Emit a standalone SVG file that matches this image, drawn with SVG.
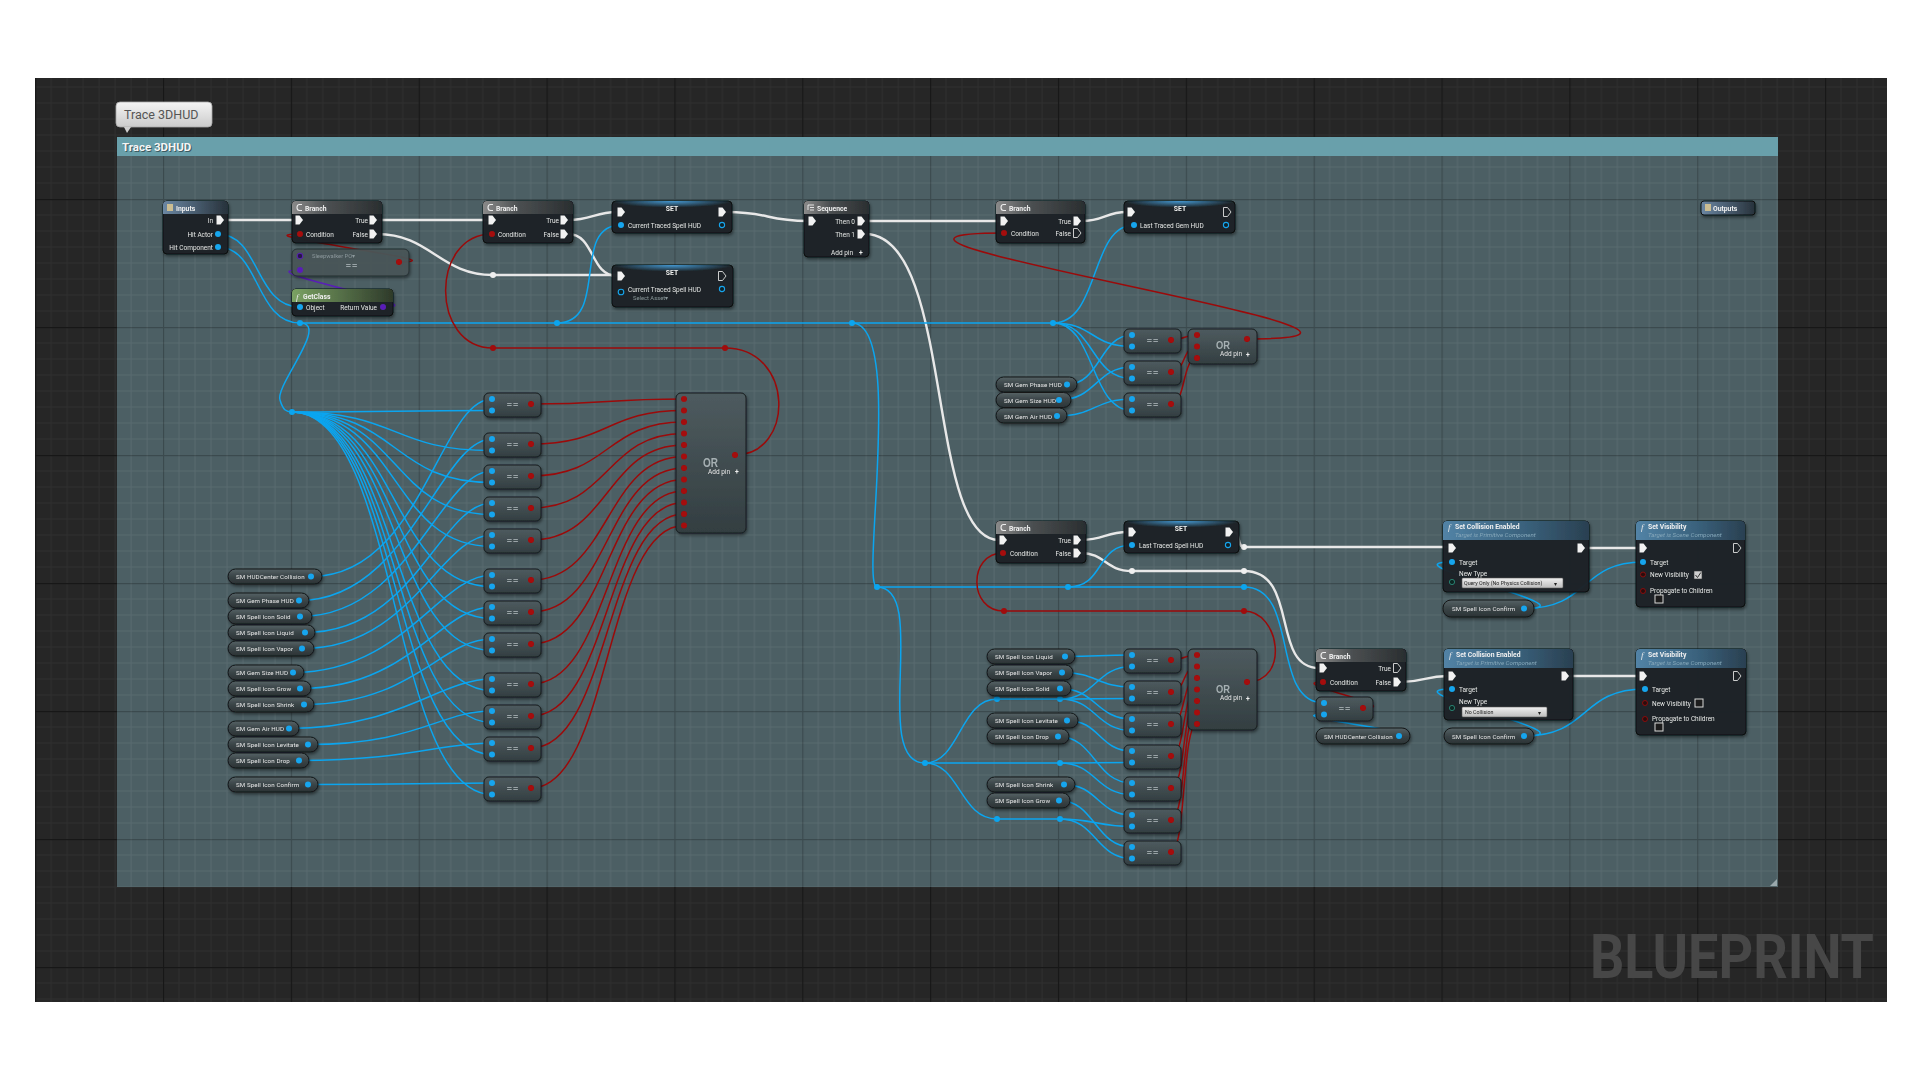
<svg xmlns="http://www.w3.org/2000/svg" width="1920" height="1080" viewBox="0 0 1920 1080">
<defs>
<pattern id="gridD" x="35.15" y="71" width="127.85" height="128" patternUnits="userSpaceOnUse">
<rect width="127.85" height="128" fill="#262626"/>
<path d="M16 0V128M32 0V128M48 0V128M64 0V128M80 0V128M96 0V128M112 0V128M0 16H128M0 32H128M0 48H128M0 64H128M0 80H128M0 96H128M0 112H128" stroke="#2f2f2f" stroke-width="1"/>
<path d="M0.5 0V128M0 0.5H128" stroke="#171717" stroke-width="1.3"/>
</pattern>
<pattern id="gridC" x="35.15" y="71" width="127.85" height="128" patternUnits="userSpaceOnUse">
<path d="M16 0V128M32 0V128M48 0V128M64 0V128M80 0V128M96 0V128M112 0V128M0 16H128M0 32H128M0 48H128M0 64H128M0 80H128M0 96H128M0 112H128" stroke="#ffffff" stroke-opacity="0.07" stroke-width="1"/>
<path d="M0.5 0V128M0 0.5H128" stroke="#000000" stroke-opacity="0.22" stroke-width="1.3"/>
</pattern>
<linearGradient id="hGrey" x1="0" y1="0" x2="1" y2="0"><stop offset="0" stop-color="#8a8a8a"/><stop offset="0.4" stop-color="#4b4f51"/><stop offset="1" stop-color="#2a2e30"/></linearGradient>
<linearGradient id="hIO" x1="0" y1="0" x2="1" y2="0"><stop offset="0" stop-color="#6b87a3"/><stop offset="1" stop-color="#27323b"/></linearGradient>
<linearGradient id="hFunc" x1="0" y1="0" x2="1" y2="0"><stop offset="0" stop-color="#5283a6"/><stop offset="0.55" stop-color="#3a627d"/><stop offset="1" stop-color="#2a4051"/></linearGradient>
<linearGradient id="hGreen" x1="0" y1="0" x2="1" y2="0"><stop offset="0" stop-color="#7aa263"/><stop offset="1" stop-color="#2e3a2a"/></linearGradient>
<radialGradient id="setG" cx="0.5" cy="0" r="0.5"><stop offset="0" stop-color="#4aa6e6" stop-opacity="0.9"/><stop offset="1" stop-color="#4aa6e6" stop-opacity="0"/></radialGradient>
<linearGradient id="pureG" x1="0" y1="0" x2="0" y2="1"><stop offset="0" stop-color="#4e5b5f"/><stop offset="1" stop-color="#333e41"/></linearGradient>
<linearGradient id="varG" x1="0" y1="0" x2="0" y2="1"><stop offset="0" stop-color="#566265"/><stop offset="0.5" stop-color="#3a4447"/><stop offset="1" stop-color="#2b3335"/></linearGradient>
<linearGradient id="tipG" x1="0" y1="0" x2="0" y2="1"><stop offset="0" stop-color="#f4f4f4"/><stop offset="1" stop-color="#cbcbcb"/></linearGradient>
<linearGradient id="ddG" x1="0" y1="0" x2="0" y2="1"><stop offset="0" stop-color="#f0f0f0"/><stop offset="1" stop-color="#bdbdbd"/></linearGradient>
<filter id="sh" x="-5%" y="-5%" width="110%" height="110%"><feDropShadow dx="1" dy="2" stdDeviation="1.5" flood-color="#000" flood-opacity="0.45"/></filter>
<path id="ex" d="M-3.5 -4.5H0.5L4 0L0.5 4.5H-3.5Z"/>
<g id="eq">
<rect x="0" y="0" width="57" height="24" rx="5" class="pure"/>
<circle cx="8" cy="6" r="3" class="pb"/>
<circle cx="8" cy="17.5" r="3" class="pb"/>
<circle cx="47" cy="11" r="3" class="pr"/>
<text x="29" y="15" class="eqt">==</text>
</g>
<style>
.t{font-family:Roboto,"Liberation Sans",Arial,sans-serif;font-size:6.5px;fill:#e6e6e6}
.tb{font-family:Roboto,"Liberation Sans",Arial,sans-serif;font-size:6.8px;font-weight:bold;fill:#f0f0f0}
.ti{font-family:Roboto,"Liberation Sans",Arial,sans-serif;font-size:6.2px;font-style:italic;fill:#86a8ba}
.tf{font-family:"Liberation Serif",serif;font-size:9px;font-style:italic;fill:#e8e8e8}
.te{text-anchor:end}
.tm{text-anchor:middle}
.tv{font-family:Roboto,"Liberation Sans",Arial,sans-serif;font-size:6.2px;fill:#e8e8e8;letter-spacing:0.1px}
.tg{font-family:Roboto,"Liberation Sans",Arial,sans-serif;font-size:5.8px;fill:#8b979b}
.eqt{font-family:"Liberation Sans",Arial,sans-serif;font-size:9px;font-weight:bold;fill:#9aa4a7;text-anchor:middle;letter-spacing:1px}
.ort{font-family:"Liberation Sans",Arial,sans-serif;font-weight:bold;fill:#a6b0b3}
.wb{fill:none;stroke:#0ba5ef;stroke-width:1.5}
.wr{fill:none;stroke:#9b0a0a;stroke-width:1.5}
.ww{fill:none;stroke:#e8e8e8;stroke-width:2.4}
.wp{fill:none;stroke:#5a1fb8;stroke-width:1.5}
.nb{fill:#1c2225;fill-opacity:0.96;stroke:#0b0e0f;stroke-width:1}
.pb{fill:#16a5ee}
.pr{fill:#a50b0b}
.var{fill:url(#varG);stroke:#121618;stroke-width:1}
.pure{fill:url(#pureG);stroke:#161c1e;stroke-width:1}
.kb{fill:#0ba5ef}.kr{fill:#a00c0c}.kw{fill:#f0f0f0}
.ex{fill:#f2f2f2}
.exo{fill:none;stroke:#e0e0e0;stroke-width:0.9}
.ring{fill:#102028;stroke:#16a5ee;stroke-width:1.1}
.rr{fill:#2a0a0a;stroke:#8a1010;stroke-width:1}
</style>
</defs>

<rect width="1920" height="1080" fill="#ffffff"/>
<rect x="35" y="78" width="1852" height="924" fill="url(#gridD)"/>

<g id="tooltip">
<rect x="116" y="102" width="96" height="25" rx="4" fill="url(#tipG)" stroke="#a8a8a8" stroke-width="0.8"/>
<path d="M124 127H131L127 133Z" fill="#cfcfcf"/>
<text x="124" y="119" font-family="Roboto,'Liberation Sans',Arial,sans-serif" font-size="12.5" fill="#555">Trace 3DHUD</text>
</g>

<g id="comment">
<rect x="117" y="156" width="1661" height="731" fill="#4c5f64"/>
<rect x="117" y="156" width="1661" height="731" fill="url(#gridC)"/>
<rect x="117" y="137" width="1661" height="19" fill="#69a0ab"/>
<text x="123" y="152" font-family="Roboto,'Liberation Sans',Arial,sans-serif" font-size="11.5" font-weight="bold" fill="#1d2a2d" opacity="0.6">Trace 3DHUD</text>
<text x="122" y="151" font-family="Roboto,'Liberation Sans',Arial,sans-serif" font-size="11.5" font-weight="bold" fill="#f5f5f5">Trace 3DHUD</text>
<path d="M1777 879V886H1770Z" fill="#9aa8ac"/>
</g>

<text x="1590" y="978" font-family="Roboto,'Liberation Sans',Arial,sans-serif" font-size="62" font-weight="bold" fill="#474747" textLength="284" lengthAdjust="spacingAndGlyphs">BLUEPRINT</text>

<g id="connectors">
<path class="ww" d="M224 220H295"/>
<path class="ww" d="M377 220H488"/>
<path class="ww" d="M377 234C430 234 440 275 493 275H617"/>
<path class="ww" d="M568 234C595 234 590 276 617 276"/>
<path class="ww" d="M568 220C592 220 595 212 617 212"/>
<path class="ww" d="M726 212C770 212 765 221 808 221"/>
<path class="ww" d="M865 221H1000"/>
<path class="ww" d="M865 234C955 234 925 540 999 540"/>
<path class="ww" d="M1081 221C1105 221 1105 212 1127 212"/>
<path class="ww" d="M1081 540C1105 540 1105 532 1128 532"/>
<path class="ww" d="M1233 532C1242 532 1236 547 1244 547H1448"/>
<path class="ww" d="M1081 553C1105 553 1105 571 1132 571H1244"/>
<path class="ww" d="M1244 571C1300 571 1270 668 1319 668"/>
<path class="ww" d="M1585 548H1639"/>
<path class="ww" d="M1401 682C1425 682 1425 676 1448 676"/>
<path class="ww" d="M1569 676H1639"/>
<path class="wp" d="M383 307C445 307 240 270 300 270"/>
<path class="wb" d="M218 234C260 234 255 307 300 307"/>
<path class="wb" d="M218 247C260 247 255 323 300 323H1053"/>
<path class="wb" d="M557 323C610 323 570 225 621 225"/>
<path class="wb" d="M300 323C330 323 275 385 280 400C283 410 286 412 292 412"/>
<path class="wb" d="M1053 323C1100 323 1090 225 1134 225"/>
<path class="wb" d="M1053 323C1095 323 1090 346.5 1132 346.5"/>
<path class="wb" d="M1053 323C1095 323 1090 378.5 1132 378.5"/>
<path class="wb" d="M1053 323C1095 323 1090 410.5 1132 410.5"/>
<path class="wb" d="M1067 384.5C1100 384.5 1100 335 1132 335"/>
<path class="wb" d="M1059 400C1096 400 1096 367 1132 367"/>
<path class="wb" d="M1057 416C1095 416 1095 399 1132 399"/>
<path class="wb" d="M852 323C905 323 860 587 877 587H1244"/>
<path class="wb" d="M1068 587C1105 587 1095 545 1132 545"/>
<path class="wb" d="M1244 587C1300 587 1270 703 1324 703"/>
<path class="wb" d="M1399 736C1450 736 1270 714.5 1324 714.5"/>
<path class="wb" d="M1524 608.5C1590 608.5 1580 562 1643 562"/>
<path class="wb" d="M1524 608.5C1600 608.5 1380 562 1452 562"/>
<path class="wb" d="M1524 736C1590 736 1580 689 1645 689"/>
<path class="wb" d="M1524 736C1600 736 1380 689 1452 689"/>
<path class="wb" d="M877 587C930 587 870 763 925 763H1060"/>
<path class="wb" d="M925 763C960 763 960 699 997 699H1060"/>
<path class="wb" d="M925 763C960 763 960 819 997 819H1060"/>
<path class="wb" d="M1060 699C1096 699 1096 666.5 1132 666.5"/>
<path class="wb" d="M1060 699C1096 699 1096 698.5 1132 698.5"/>
<path class="wb" d="M1060 699C1096 699 1096 730.5 1132 730.5"/>
<path class="wb" d="M1060 763C1096 763 1096 762.5 1132 762.5"/>
<path class="wb" d="M1060 763C1096 763 1096 794.5 1132 794.5"/>
<path class="wb" d="M1060 819C1096 819 1096 826.5 1132 826.5"/>
<path class="wb" d="M1060 819C1096 819 1096 858.5 1132 858.5"/>
<path class="wb" d="M1065 656.5C1098 656.5 1099 655 1132 655"/>
<path class="wb" d="M1062 672.5C1097 672.5 1097 687 1132 687"/>
<path class="wb" d="M1060 688.5C1096 688.5 1096 719 1132 719"/>
<path class="wb" d="M1067 720.5C1100 720.5 1099 751 1132 751"/>
<path class="wb" d="M1058 736.5C1095 736.5 1095 783 1132 783"/>
<path class="wb" d="M1064 784.5C1098 784.5 1098 815 1132 815"/>
<path class="wb" d="M1059 800.5C1095 800.5 1095 847 1132 847"/>
<path class="wb" d="M292 412C400 412 390 410.5 492 410.5"/>
<path class="wb" d="M292 412C400 412 390 450.5 492 450.5"/>
<path class="wb" d="M292 412C400 412 390 482.5 492 482.5"/>
<path class="wb" d="M292 412C400 412 390 514.5 492 514.5"/>
<path class="wb" d="M292 412C400 412 390 546.5 492 546.5"/>
<path class="wb" d="M292 412C400 412 390 586.5 492 586.5"/>
<path class="wb" d="M292 412C400 412 390 618.5 492 618.5"/>
<path class="wb" d="M292 412C400 412 390 650.5 492 650.5"/>
<path class="wb" d="M292 412C400 412 390 690.5 492 690.5"/>
<path class="wb" d="M292 412C400 412 390 722.5 492 722.5"/>
<path class="wb" d="M292 412C400 412 390 754.5 492 754.5"/>
<path class="wb" d="M292 412C400 412 390 794.5 492 794.5"/>
<path class="wb" d="M311 576.5C421 576.5 440 399 492 399"/>
<path class="wb" d="M299 600.5C409 600.5 440 439 492 439"/>
<path class="wb" d="M300 616.5C410 616.5 440 471 492 471"/>
<path class="wb" d="M305 632.5C415 632.5 440 503 492 503"/>
<path class="wb" d="M302 648.5C412 648.5 440 535 492 535"/>
<path class="wb" d="M293 672.5C403 672.5 440 575 492 575"/>
<path class="wb" d="M300 688.5C410 688.5 440 607 492 607"/>
<path class="wb" d="M304 704.5C414 704.5 440 639 492 639"/>
<path class="wb" d="M289 728.5C399 728.5 440 679 492 679"/>
<path class="wb" d="M308 744.5C418 744.5 440 711 492 711"/>
<path class="wb" d="M299 760.5C409 760.5 440 743 492 743"/>
<path class="wb" d="M308 784.5C418 784.5 440 783 492 783"/>
<path class="wr" d="M399 262C470 262 230 234 300 234"/>
<path class="wr" d="M735 455C795 455 795 348 725 348H493"/>
<path class="wr" d="M493 348C430 348 430 234 492 234"/>
<path class="wr" d="M1247 339C1500 339 760 233 1004 233"/>
<path class="wr" d="M1171 340C1185 340 1183 335 1197 335"/>
<path class="wr" d="M1171 372C1186 372 1182 346.5 1197 346.5"/>
<path class="wr" d="M1171 404C1186 404 1182 358 1197 358"/>
<path class="wr" d="M531 404C610 404 605 399 684 399"/>
<path class="wr" d="M531 444C610 444 605 410.5 684 410.5"/>
<path class="wr" d="M531 476C610 476 605 422 684 422"/>
<path class="wr" d="M531 508C610 508 605 433.5 684 433.5"/>
<path class="wr" d="M531 540C610 540 605 445 684 445"/>
<path class="wr" d="M531 580C610 580 605 456.5 684 456.5"/>
<path class="wr" d="M531 612C610 612 605 468 684 468"/>
<path class="wr" d="M531 644C610 644 605 479.5 684 479.5"/>
<path class="wr" d="M531 684C610 684 605 491 684 491"/>
<path class="wr" d="M531 716C610 716 605 502.5 684 502.5"/>
<path class="wr" d="M531 748C610 748 605 514 684 514"/>
<path class="wr" d="M531 788C610 788 605 525.5 684 525.5"/>
<path class="wr" d="M1171 660C1186 660 1182 655 1197 655"/>
<path class="wr" d="M1171 692C1186 692 1182 666.5 1197 666.5"/>
<path class="wr" d="M1171 724C1186 724 1182 678 1197 678"/>
<path class="wr" d="M1171 756C1186 756 1182 689.5 1197 689.5"/>
<path class="wr" d="M1171 788C1186 788 1182 701 1197 701"/>
<path class="wr" d="M1171 820C1186 820 1182 712.5 1197 712.5"/>
<path class="wr" d="M1171 852C1186 852 1182 724 1197 724"/>
<path class="wr" d="M1247 682C1290 682 1280 611 1244 611H1004"/>
<path class="wr" d="M1004 611C968 611 968 553 1003 553"/>
<path class="wr" d="M1363 708C1410 708 1280 682 1323 682"/>
<circle class="kw" cx="493" cy="275" r="3"/>
<circle class="kw" cx="1244" cy="547" r="3"/>
<circle class="kw" cx="1132" cy="571" r="3"/>
<circle class="kw" cx="1244" cy="571" r="3"/>
<circle class="kb" cx="300" cy="323" r="3"/>
<circle class="kb" cx="557" cy="323" r="3"/>
<circle class="kb" cx="852" cy="323" r="3"/>
<circle class="kb" cx="1053" cy="323" r="3"/>
<circle class="kb" cx="292" cy="412" r="3"/>
<circle class="kb" cx="877" cy="587" r="3"/>
<circle class="kb" cx="1068" cy="587" r="3"/>
<circle class="kb" cx="1244" cy="587" r="3"/>
<circle class="kb" cx="925" cy="763" r="3"/>
<circle class="kb" cx="997" cy="699" r="3"/>
<circle class="kb" cx="1060" cy="699" r="3"/>
<circle class="kb" cx="1060" cy="763" r="3"/>
<circle class="kb" cx="997" cy="819" r="3"/>
<circle class="kb" cx="1060" cy="819" r="3"/>
<circle class="kr" cx="493" cy="348" r="3"/>
<circle class="kr" cx="725" cy="348" r="3"/>
<circle class="kr" cx="1004" cy="611" r="3"/>
<circle class="kr" cx="1244" cy="611" r="3"/>
</g>

<g id="nodes" filter="url(#sh)">
<g id="inputs">
<rect class="nb" x="163" y="201" width="65" height="53" rx="4"/>
<path d="M163 214V205Q163 201 167 201H224Q228 201 228 205V214Z" fill="url(#hIO)"/>
<rect x="167" y="204" width="6" height="7" fill="#cbbd92"/>
<text class="tb" x="176" y="211">Inputs</text>
<text class="t te" x="213" y="222.5">In</text><use href="#ex" class="ex" x="220" y="220"/>
<text class="t te" x="213" y="236.5">Hit Actor</text><circle class="pb" cx="218" cy="234" r="3"/>
<text class="t te" x="213" y="249.5">Hit Component</text><circle class="pb" cx="218" cy="247" r="3"/>
</g>
<g id="branch1">
<rect class="nb" x="292" y="201" width="90" height="42" rx="4"/>
<path d="M292 214V205Q292 201 296 201H378Q382 201 382 205V214Z" fill="url(#hGrey)"/>
<path d="M302 204.5H299.5Q297 204.5 297 207.5Q297 210.5 299.5 210.5H302" fill="none" stroke="#eee" stroke-width="1.1"/>
<text class="tb" x="305" y="211">Branch</text>
<use href="#ex" class="ex" x="299" y="220"/>
<text class="t te" x="368" y="222.5">True</text><use href="#ex" class="ex" x="373" y="220"/>
<circle class="pr" cx="300" cy="234" r="3"/><text class="t" x="306" y="236.5">Condition</text>
<text class="t te" x="368" y="236.5">False</text><use href="#ex" class="ex" x="373" y="234"/>
</g>
<g id="eq-sleepwalker">
<rect x="292" y="249" width="117" height="27" rx="5" fill="#4a5659" fill-opacity="0.92" stroke="#263033"/>
<circle cx="300" cy="256" r="2.8" fill="#26124a" stroke="#5a1fb8" stroke-width="1"/>
<circle cx="300" cy="270" r="3" fill="#5a1fb8"/>
<text class="tg" x="312" y="258">Sleepwalker PO▾</text>
<text class="eqt" x="352" y="269">==</text>
<circle class="pr" cx="399" cy="262" r="3"/>
</g>
<g id="getclass">
<rect class="nb" x="292" y="289" width="101" height="27" rx="4"/>
<path d="M292 302V293Q292 289 296 289H389Q393 289 393 293V302Z" fill="url(#hGreen)"/>
<text class="tf" x="296" y="299.5">f</text>
<text class="tb" x="303" y="299">GetClass</text>
<circle class="pb" cx="300" cy="307" r="3"/><text class="t" x="306" y="309.5">Object</text>
<text class="t te" x="377" y="309.5">Return Value</text><circle cx="383" cy="307" r="3" fill="#5a1fb8"/>
</g>
<g id="branch2">
<rect class="nb" x="483" y="201" width="90" height="42" rx="4"/>
<path d="M483 214V205Q483 201 487 201H569Q573 201 573 205V214Z" fill="url(#hGrey)"/>
<path d="M493 204.5H490.5Q488 204.5 488 207.5Q488 210.5 490.5 210.5H493" fill="none" stroke="#eee" stroke-width="1.1"/>
<text class="tb" x="496" y="211">Branch</text>
<use href="#ex" class="ex" x="492" y="220"/>
<text class="t te" x="559" y="222.5">True</text><use href="#ex" class="ex" x="564" y="220"/>
<circle class="pr" cx="492" cy="234" r="3"/><text class="t" x="498" y="236.5">Condition</text>
<text class="t te" x="559" y="236.5">False</text><use href="#ex" class="ex" x="564" y="234"/>
</g>
<g id="set1">
<rect class="nb" x="612" y="201" width="120" height="32" rx="4"/>
<rect x="612" y="201" width="120" height="13" rx="4" fill="url(#setG)"/>
<text class="tb tm" x="672" y="210.5" font-size="6">SET</text>
<use href="#ex" class="ex" x="621" y="212"/><use href="#ex" class="ex" x="722" y="212"/>
<circle class="pb" cx="621" cy="225" r="3"/><text class="t" x="628" y="227.5">Current Traced Spell HUD</text>
<circle class="ring" cx="722" cy="225" r="2.6"/>
</g>
<g id="set2">
<rect class="nb" x="612" y="265" width="121" height="42" rx="4"/>
<rect x="612" y="265" width="121" height="13" rx="4" fill="url(#setG)"/>
<text class="tb tm" x="672" y="274.5" font-size="6">SET</text>
<use href="#ex" class="ex" x="621" y="276"/><use href="#ex" class="exo" x="722" y="276"/>
<circle class="ring" cx="621" cy="292" r="2.8"/>
<text class="t" x="628" y="291.5">Current Traced Spell HUD</text>
<text class="tg" x="633" y="299.5">Select Asset▾</text>
<circle class="ring" cx="722" cy="289" r="2.6"/>
</g>
<g id="sequence">
<rect class="nb" x="804" y="201" width="65" height="56" rx="4"/>
<path d="M804 214V205Q804 201 808 201H865Q869 201 869 205V214Z" fill="url(#hGrey)"/>
<path d="M808 205H814M810 207.5H814M810 210H814M808 205V210" fill="none" stroke="#eee" stroke-width="0.9"/>
<text class="tb" x="817" y="211">Sequence</text>
<use href="#ex" class="ex" x="812" y="221"/>
<text class="t te" x="855" y="223.5">Then 0</text><use href="#ex" class="ex" x="861" y="221"/>
<text class="t te" x="855" y="236.5">Then 1</text><use href="#ex" class="ex" x="861" y="234"/>
<text class="t" x="831" y="254.5">Add pin</text><text class="tb" x="859" y="254.5" font-size="8">+</text>
</g>
<g id="branch3">
<rect class="nb" x="996" y="201" width="89" height="42" rx="4"/>
<path d="M996 214V205Q996 201 1000 201H1081Q1085 201 1085 205V214Z" fill="url(#hGrey)"/>
<path d="M1006 204.5H1003.5Q1001 204.5 1001 207.5Q1001 210.5 1003.5 210.5H1006" fill="none" stroke="#eee" stroke-width="1.1"/>
<text class="tb" x="1009" y="211">Branch</text>
<use href="#ex" class="ex" x="1004" y="221"/>
<text class="t te" x="1071" y="223.5">True</text><use href="#ex" class="ex" x="1077" y="221"/>
<circle class="pr" cx="1004" cy="233" r="3"/><text class="t" x="1011" y="235.5">Condition</text>
<text class="t te" x="1071" y="235.5">False</text><use href="#ex" class="exo" x="1077" y="233"/>
</g>
<g id="set3">
<rect class="nb" x="1124" y="201" width="111" height="32" rx="4"/>
<rect x="1124" y="201" width="111" height="13" rx="4" fill="url(#setG)"/>
<text class="tb tm" x="1180" y="210.5" font-size="6">SET</text>
<use href="#ex" class="ex" x="1131" y="212"/><use href="#ex" class="exo" x="1227" y="212"/>
<circle class="pb" cx="1134" cy="225" r="3"/><text class="t" x="1140" y="227.5">Last Traced Gem HUD</text>
<circle class="ring" cx="1226" cy="225" r="2.6"/>
</g>
<g id="outputs">
<rect x="1701" y="201" width="54" height="14" rx="3" fill="url(#hIO)" stroke="#0b0e0f"/>
<rect x="1705" y="204" width="6" height="7" fill="#cbbd92"/>
<text class="tb" x="1713" y="210.5">Outputs</text>
</g>

<g id="gem-vars">
<g id="v-gemphase"><rect class="var" x="996" y="377" width="81" height="15" rx="7.5"/><text class="tv" x="1004" y="387">SM Gem Phase HUD</text><circle class="pb" cx="1067" cy="384.5" r="3"/></g>
<g id="v-gemsize"><rect class="var" x="996" y="392.5" width="75" height="15" rx="7.5"/><text class="tv" x="1004" y="402.5">SM Gem Size HUD</text><circle class="pb" cx="1059" cy="400" r="3"/></g>
<g id="v-gemair"><rect class="var" x="996" y="408" width="71" height="15" rx="7.5"/><text class="tv" x="1004" y="418.5">SM Gem Air HUD</text><circle class="pb" cx="1057" cy="416" r="3"/></g>
</g>
<g id="eq-g1"><use href="#eq" x="1124" y="329"/></g>
<g id="eq-g2"><use href="#eq" x="1124" y="361"/></g>
<g id="eq-g3"><use href="#eq" x="1124" y="393"/></g>
<g id="or-gem">
<rect class="pure" x="1188" y="329" width="69" height="35" rx="5"/>
<circle class="pr" cx="1197" cy="335" r="3"/><circle class="pr" cx="1197" cy="346.5" r="3"/><circle class="pr" cx="1197" cy="358" r="3"/>
<text class="ort" x="1216" y="349" font-size="11" textLength="14" lengthAdjust="spacingAndGlyphs">OR</text>
<text class="t" x="1220" y="356">Add pin</text><text class="tb" x="1246" y="356.5" font-size="8">+</text>
<circle class="pr" cx="1247" cy="339" r="3"/>
</g>

<g id="left-vars">
<g id="v-l1"><rect class="var" x="228" y="569" width="94" height="15" rx="7.5"/><text class="tv" x="236" y="579">SM HUDCenter Collision</text><circle class="pb" cx="311" cy="576.5" r="3"/></g>
<g id="v-l2"><rect class="var" x="228" y="593" width="81" height="15" rx="7.5"/><text class="tv" x="236" y="603">SM Gem Phase HUD</text><circle class="pb" cx="299" cy="600.5" r="3"/></g>
<g id="v-l3"><rect class="var" x="228" y="609" width="84" height="15" rx="7.5"/><text class="tv" x="236" y="619">SM Spell Icon Solid</text><circle class="pb" cx="300" cy="616.5" r="3"/></g>
<g id="v-l4"><rect class="var" x="228" y="625" width="87" height="15" rx="7.5"/><text class="tv" x="236" y="635">SM Spell Icon Liquid</text><circle class="pb" cx="305" cy="632.5" r="3"/></g>
<g id="v-l5"><rect class="var" x="228" y="641" width="86" height="15" rx="7.5"/><text class="tv" x="236" y="651">SM Spell Icon Vapor</text><circle class="pb" cx="302" cy="648.5" r="3"/></g>
<g id="v-l6"><rect class="var" x="228" y="665" width="76" height="15" rx="7.5"/><text class="tv" x="236" y="675">SM Gem Size HUD</text><circle class="pb" cx="293" cy="672.5" r="3"/></g>
<g id="v-l7"><rect class="var" x="228" y="681" width="83" height="15" rx="7.5"/><text class="tv" x="236" y="691">SM Spell Icon Grow</text><circle class="pb" cx="300" cy="688.5" r="3"/></g>
<g id="v-l8"><rect class="var" x="228" y="697" width="86" height="15" rx="7.5"/><text class="tv" x="236" y="707">SM Spell Icon Shrink</text><circle class="pb" cx="304" cy="704.5" r="3"/></g>
<g id="v-l9"><rect class="var" x="228" y="721" width="71" height="15" rx="7.5"/><text class="tv" x="236" y="731">SM Gem Air HUD</text><circle class="pb" cx="289" cy="728.5" r="3"/></g>
<g id="v-l10"><rect class="var" x="228" y="737" width="90" height="15" rx="7.5"/><text class="tv" x="236" y="747">SM Spell Icon Levitate</text><circle class="pb" cx="308" cy="744.5" r="3"/></g>
<g id="v-l11"><rect class="var" x="228" y="753" width="81" height="15" rx="7.5"/><text class="tv" x="236" y="763">SM Spell Icon Drop</text><circle class="pb" cx="299" cy="760.5" r="3"/></g>
<g id="v-l12"><rect class="var" x="228" y="777" width="90" height="15" rx="7.5"/><text class="tv" x="236" y="787">SM Spell Icon Confirm</text><circle class="pb" cx="308" cy="784.5" r="3"/></g>
</g>
<g id="eq-l1"><use href="#eq" x="484" y="393"/></g>
<g id="eq-l2"><use href="#eq" x="484" y="433"/></g>
<g id="eq-l3"><use href="#eq" x="484" y="465"/></g>
<g id="eq-l4"><use href="#eq" x="484" y="497"/></g>
<g id="eq-l5"><use href="#eq" x="484" y="529"/></g>
<g id="eq-l6"><use href="#eq" x="484" y="569"/></g>
<g id="eq-l7"><use href="#eq" x="484" y="601"/></g>
<g id="eq-l8"><use href="#eq" x="484" y="633"/></g>
<g id="eq-l9"><use href="#eq" x="484" y="673"/></g>
<g id="eq-l10"><use href="#eq" x="484" y="705"/></g>
<g id="eq-l11"><use href="#eq" x="484" y="737"/></g>
<g id="eq-l12"><use href="#eq" x="484" y="777"/></g>
<g id="or-big">
<rect class="pure" x="676" y="393" width="70" height="140" rx="5"/>
<circle class="pr" cx="684" cy="399" r="3"/><circle class="pr" cx="684" cy="410.5" r="3"/><circle class="pr" cx="684" cy="422" r="3"/><circle class="pr" cx="684" cy="433.5" r="3"/>
<circle class="pr" cx="684" cy="445" r="3"/><circle class="pr" cx="684" cy="456.5" r="3"/><circle class="pr" cx="684" cy="468" r="3"/><circle class="pr" cx="684" cy="479.5" r="3"/>
<circle class="pr" cx="684" cy="491" r="3"/><circle class="pr" cx="684" cy="502.5" r="3"/><circle class="pr" cx="684" cy="514" r="3"/><circle class="pr" cx="684" cy="525.5" r="3"/>
<text class="ort" x="703" y="467" font-size="13" textLength="15" lengthAdjust="spacingAndGlyphs">OR</text>
<text class="t" x="708" y="473.5">Add pin</text><text class="tb" x="735" y="474" font-size="8">+</text>
<circle class="pr" cx="735" cy="455" r="3"/>
</g>

<g id="branch4">
<rect class="nb" x="996" y="521" width="90" height="42" rx="4"/>
<path d="M996 534V525Q996 521 1000 521H1082Q1086 521 1086 525V534Z" fill="url(#hGrey)"/>
<path d="M1006 524.5H1003.5Q1001 524.5 1001 527.5Q1001 530.5 1003.5 530.5H1006" fill="none" stroke="#eee" stroke-width="1.1"/>
<text class="tb" x="1009" y="531">Branch</text>
<use href="#ex" class="ex" x="1003" y="540"/>
<text class="t te" x="1071" y="542.5">True</text><use href="#ex" class="ex" x="1077" y="540"/>
<circle class="pr" cx="1003" cy="553" r="3"/><text class="t" x="1010" y="555.5">Condition</text>
<text class="t te" x="1071" y="555.5">False</text><use href="#ex" class="ex" x="1077" y="553"/>
</g>
<g id="set4">
<rect class="nb" x="1124" y="521" width="115" height="32" rx="4"/>
<rect x="1124" y="521" width="115" height="13" rx="4" fill="url(#setG)"/>
<text class="tb tm" x="1181" y="530.5" font-size="6">SET</text>
<use href="#ex" class="ex" x="1132" y="532"/><use href="#ex" class="ex" x="1229" y="532"/>
<circle class="pb" cx="1132" cy="545" r="3"/><text class="t" x="1139" y="547.5">Last Traced Spell HUD</text>
<circle class="ring" cx="1228" cy="545" r="2.6"/>
</g>
<g id="setcoll1">
<rect class="nb" x="1443" y="521" width="146" height="71" rx="4"/>
<path d="M1443 540V525Q1443 521 1447 521H1585Q1589 521 1589 525V540Z" fill="url(#hFunc)"/>
<text class="tf" x="1448" y="529.5">f</text>
<text class="tb" x="1455" y="528.5">Set Collision Enabled</text>
<text class="ti" x="1455" y="537">Target is Primitive Component</text>
<use href="#ex" class="ex" x="1452" y="548"/><use href="#ex" class="ex" x="1581" y="548"/>
<circle class="pb" cx="1452" cy="562" r="3"/><text class="t" x="1459" y="564.5">Target</text>
<text class="t" x="1459" y="576">New Type</text>
<circle cx="1452" cy="582" r="2.6" fill="#0f2622" stroke="#2a7f70" stroke-width="1"/>
<rect x="1462" y="578" width="101" height="10" rx="1" fill="url(#ddG)" stroke="#5a5a5a" stroke-width="0.6"/>
<text x="1464" y="585.3" font-family="Roboto,'Liberation Sans',Arial,sans-serif" font-size="5.3" fill="#222">Query Only (No Physics Collision)</text>
<text x="1554" y="585.5" font-family="'DejaVu Sans',sans-serif" font-size="6" fill="#222">▾</text>
</g>
<g id="v-confirm1"><rect class="var" x="1443" y="600" width="91" height="17" rx="8"/><text class="tv" x="1452" y="611">SM Spell Icon Confirm</text><circle class="pb" cx="1524" cy="608.5" r="3"/></g>
<g id="setvis1">
<rect class="nb" x="1636" y="521" width="109" height="86" rx="4"/>
<path d="M1636 540V525Q1636 521 1640 521H1741Q1745 521 1745 525V540Z" fill="url(#hFunc)"/>
<text class="tf" x="1641" y="529.5">f</text>
<text class="tb" x="1648" y="528.5">Set Visibility</text>
<text class="ti" x="1648" y="537">Target is Scene Component</text>
<use href="#ex" class="ex" x="1643" y="548"/><use href="#ex" class="exo" x="1737" y="548"/>
<circle class="pb" cx="1643" cy="562" r="3"/><text class="t" x="1650" y="564.5">Target</text>
<circle class="rr" cx="1643" cy="574.5" r="2.5"/><text class="t" x="1650" y="577">New Visibility</text>
<rect x="1694" y="571" width="8" height="8" fill="#cfcfcf" stroke="#333" stroke-width="0.6"/>
<path d="M1695.5 575L1697.5 577.5L1700.8 572.5" fill="none" stroke="#333" stroke-width="1"/>
<circle class="rr" cx="1643" cy="591" r="2.5"/><text class="t" x="1650" y="592.5">Propagate to Children</text>
<rect x="1655" y="595" width="8" height="8" fill="#1a1a1a" stroke="#d8d8d8" stroke-width="1"/>
</g>

<g id="branch5">
<rect class="nb" x="1316" y="649" width="90" height="42" rx="4"/>
<path d="M1316 662V653Q1316 649 1320 649H1402Q1406 649 1406 653V662Z" fill="url(#hGrey)"/>
<path d="M1326 652.5H1323.5Q1321 652.5 1321 655.5Q1321 658.5 1323.5 658.5H1326" fill="none" stroke="#eee" stroke-width="1.1"/>
<text class="tb" x="1329" y="659">Branch</text>
<use href="#ex" class="ex" x="1323" y="668"/>
<text class="t te" x="1391" y="670.5">True</text><use href="#ex" class="exo" x="1397" y="668"/>
<circle class="pr" cx="1323" cy="682" r="3"/><text class="t" x="1330" y="684.5">Condition</text>
<text class="t te" x="1391" y="684.5">False</text><use href="#ex" class="ex" x="1397" y="682"/>
</g>
<g id="eq-r"><use href="#eq" x="1316" y="697"/></g>
<g id="v-hudcenter2"><rect class="var" x="1316" y="728" width="94" height="16" rx="8"/><text class="tv" x="1324" y="738.5">SM HUDCenter Collision</text><circle class="pb" cx="1399" cy="736" r="3"/></g>
<g id="setcoll2">
<rect class="nb" x="1444" y="649" width="129" height="71" rx="4"/>
<path d="M1444 668V653Q1444 649 1448 649H1569Q1573 649 1573 653V668Z" fill="url(#hFunc)"/>
<text class="tf" x="1449" y="657.5">f</text>
<text class="tb" x="1456" y="656.5">Set Collision Enabled</text>
<text class="ti" x="1456" y="665">Target is Primitive Component</text>
<use href="#ex" class="ex" x="1452" y="676"/><use href="#ex" class="ex" x="1565" y="676"/>
<circle class="pb" cx="1452" cy="689" r="3"/><text class="t" x="1459" y="691.5">Target</text>
<text class="t" x="1459" y="704">New Type</text>
<circle cx="1452" cy="708" r="2.6" fill="#0f2622" stroke="#2a7f70" stroke-width="1"/>
<rect x="1462" y="707" width="85" height="10" rx="1" fill="url(#ddG)" stroke="#5a5a5a" stroke-width="0.6"/>
<text x="1465" y="714.3" font-family="Roboto,'Liberation Sans',Arial,sans-serif" font-size="5.3" fill="#222">No Collision</text>
<text x="1538" y="714.5" font-family="'DejaVu Sans',sans-serif" font-size="6" fill="#222">▾</text>
</g>
<g id="v-confirm2"><rect class="var" x="1444" y="728" width="90" height="16" rx="8"/><text class="tv" x="1452" y="738.5">SM Spell Icon Confirm</text><circle class="pb" cx="1524" cy="736" r="3"/></g>
<g id="setvis2">
<rect class="nb" x="1636" y="649" width="110" height="86" rx="4"/>
<path d="M1636 668V653Q1636 649 1640 649H1742Q1746 649 1746 653V668Z" fill="url(#hFunc)"/>
<text class="tf" x="1641" y="657.5">f</text>
<text class="tb" x="1648" y="656.5">Set Visibility</text>
<text class="ti" x="1648" y="665">Target is Scene Component</text>
<use href="#ex" class="ex" x="1643" y="676"/><use href="#ex" class="exo" x="1737" y="676"/>
<circle class="pb" cx="1645" cy="689" r="3"/><text class="t" x="1652" y="691.5">Target</text>
<circle class="rr" cx="1645" cy="703" r="2.5"/><text class="t" x="1652" y="705.5">New Visibility</text>
<rect x="1695" y="699" width="8" height="8" fill="#1a1a1a" stroke="#d8d8d8" stroke-width="1"/>
<circle class="rr" cx="1645" cy="719" r="2.5"/><text class="t" x="1652" y="720.5">Propagate to Children</text>
<rect x="1655" y="723" width="8" height="8" fill="#1a1a1a" stroke="#d8d8d8" stroke-width="1"/>
</g>

<g id="lower-vars">
<g id="v-liquid"><rect class="var" x="987" y="649" width="88" height="15" rx="7.5"/><text class="tv" x="995" y="659">SM Spell Icon Liquid</text><circle class="pb" cx="1065" cy="656.5" r="3"/></g>
<g id="v-vapor"><rect class="var" x="987" y="665" width="86" height="15" rx="7.5"/><text class="tv" x="995" y="675">SM Spell Icon Vapor</text><circle class="pb" cx="1062" cy="672.5" r="3"/></g>
<g id="v-solid"><rect class="var" x="987" y="681" width="84" height="15" rx="7.5"/><text class="tv" x="995" y="691">SM Spell Icon Solid</text><circle class="pb" cx="1060" cy="688.5" r="3"/></g>
<g id="v-levitate"><rect class="var" x="987" y="713" width="91" height="15" rx="7.5"/><text class="tv" x="995" y="723">SM Spell Icon Levitate</text><circle class="pb" cx="1067" cy="720.5" r="3"/></g>
<g id="v-drop"><rect class="var" x="987" y="729" width="82" height="15" rx="7.5"/><text class="tv" x="995" y="739">SM Spell Icon Drop</text><circle class="pb" cx="1058" cy="736.5" r="3"/></g>
<g id="v-shrink"><rect class="var" x="987" y="777" width="88" height="15" rx="7.5"/><text class="tv" x="995" y="787">SM Spell Icon Shrink</text><circle class="pb" cx="1064" cy="784.5" r="3"/></g>
<g id="v-grow"><rect class="var" x="987" y="793" width="83" height="15" rx="7.5"/><text class="tv" x="995" y="803">SM Spell Icon Grow</text><circle class="pb" cx="1059" cy="800.5" r="3"/></g>
</g>
<g id="eq-b1"><use href="#eq" x="1124" y="649"/></g>
<g id="eq-b2"><use href="#eq" x="1124" y="681"/></g>
<g id="eq-b3"><use href="#eq" x="1124" y="713"/></g>
<g id="eq-b4"><use href="#eq" x="1124" y="745"/></g>
<g id="eq-b5"><use href="#eq" x="1124" y="777"/></g>
<g id="eq-b6"><use href="#eq" x="1124" y="809"/></g>
<g id="eq-b7"><use href="#eq" x="1124" y="841"/></g>
<g id="or-lower">
<rect class="pure" x="1188" y="649" width="69" height="81" rx="5"/>
<circle class="pr" cx="1197" cy="655" r="3"/><circle class="pr" cx="1197" cy="666.5" r="3"/><circle class="pr" cx="1197" cy="678" r="3"/><circle class="pr" cx="1197" cy="689.5" r="3"/>
<circle class="pr" cx="1197" cy="701" r="3"/><circle class="pr" cx="1197" cy="712.5" r="3"/><circle class="pr" cx="1197" cy="724" r="3"/>
<text class="ort" x="1216" y="693" font-size="11" textLength="14" lengthAdjust="spacingAndGlyphs">OR</text>
<text class="t" x="1220" y="700">Add pin</text><text class="tb" x="1246" y="700.5" font-size="8">+</text>
<circle class="pr" cx="1247" cy="682" r="3"/>
</g>
</g>
</svg>
